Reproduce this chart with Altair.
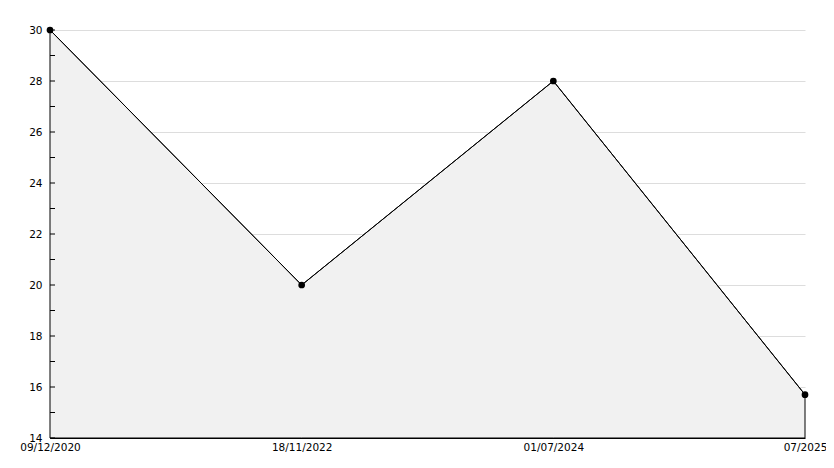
import altair as alt
import pandas as pd

dates = ["09/12/2020", "18/11/2022", "01/07/2024", "07/2025"]
values = [30, 20, 28, 15.7]
tick_values = list(range(14, 31))
label_values = list(range(14, 31, 2))

df = pd.DataFrame({"date": dates, "value": values})
ticks_df = pd.DataFrame({"t": tick_values})

yscale = alt.Scale(domain=[14, 30], nice=False, zero=False)
yaxis = alt.Axis(values=label_values, ticks=False, labelPadding=8, domainColor="black",
                 labelFont="DejaVu Sans", labelFontSize=10.5, labelColor="black",
                 grid=True, gridColor="#dddddd")

x = alt.X("date:N", sort=dates, title=None,
          scale=alt.Scale(type="point", padding=0),
          axis=alt.Axis(labelAngle=0, ticks=False, labelPadding=4, domainColor="black",
                        labelFont="DejaVu Sans", labelFontSize=10.5, labelColor="black",
                        grid=False))
y = alt.Y("value:Q", title=None, scale=yscale, axis=yaxis)

area = alt.Chart(df).mark_area(color="#f1f1f1", stroke="black", strokeWidth=1,
                               line=False).encode(x=x, y=y, y2=alt.datum(14))
line = alt.Chart(df).mark_line(color="black", strokeWidth=1).encode(x=x, y=y)
pts = alt.Chart(df).mark_point(shape="circle", filled=True, color="black", size=45,
                               opacity=1).encode(x=x, y=y)
ticks = alt.Chart(ticks_df).mark_rule(color="black", strokeWidth=1).encode(
    y=alt.Y("t:Q", title=None, scale=yscale, axis=yaxis),
    x=alt.value(0), x2=alt.value(5))

chart = alt.layer(area, line, pts, ticks).properties(
    width=755, height=408,
    padding={"left": 42, "top": 22, "right": 21, "bottom": 22},
    autosize=alt.AutoSizeParams(type="none"),
).configure(background="white").configure_view(stroke=None)

chart.save("out.html", embed_options={"renderer": "svg", "actions": False})
